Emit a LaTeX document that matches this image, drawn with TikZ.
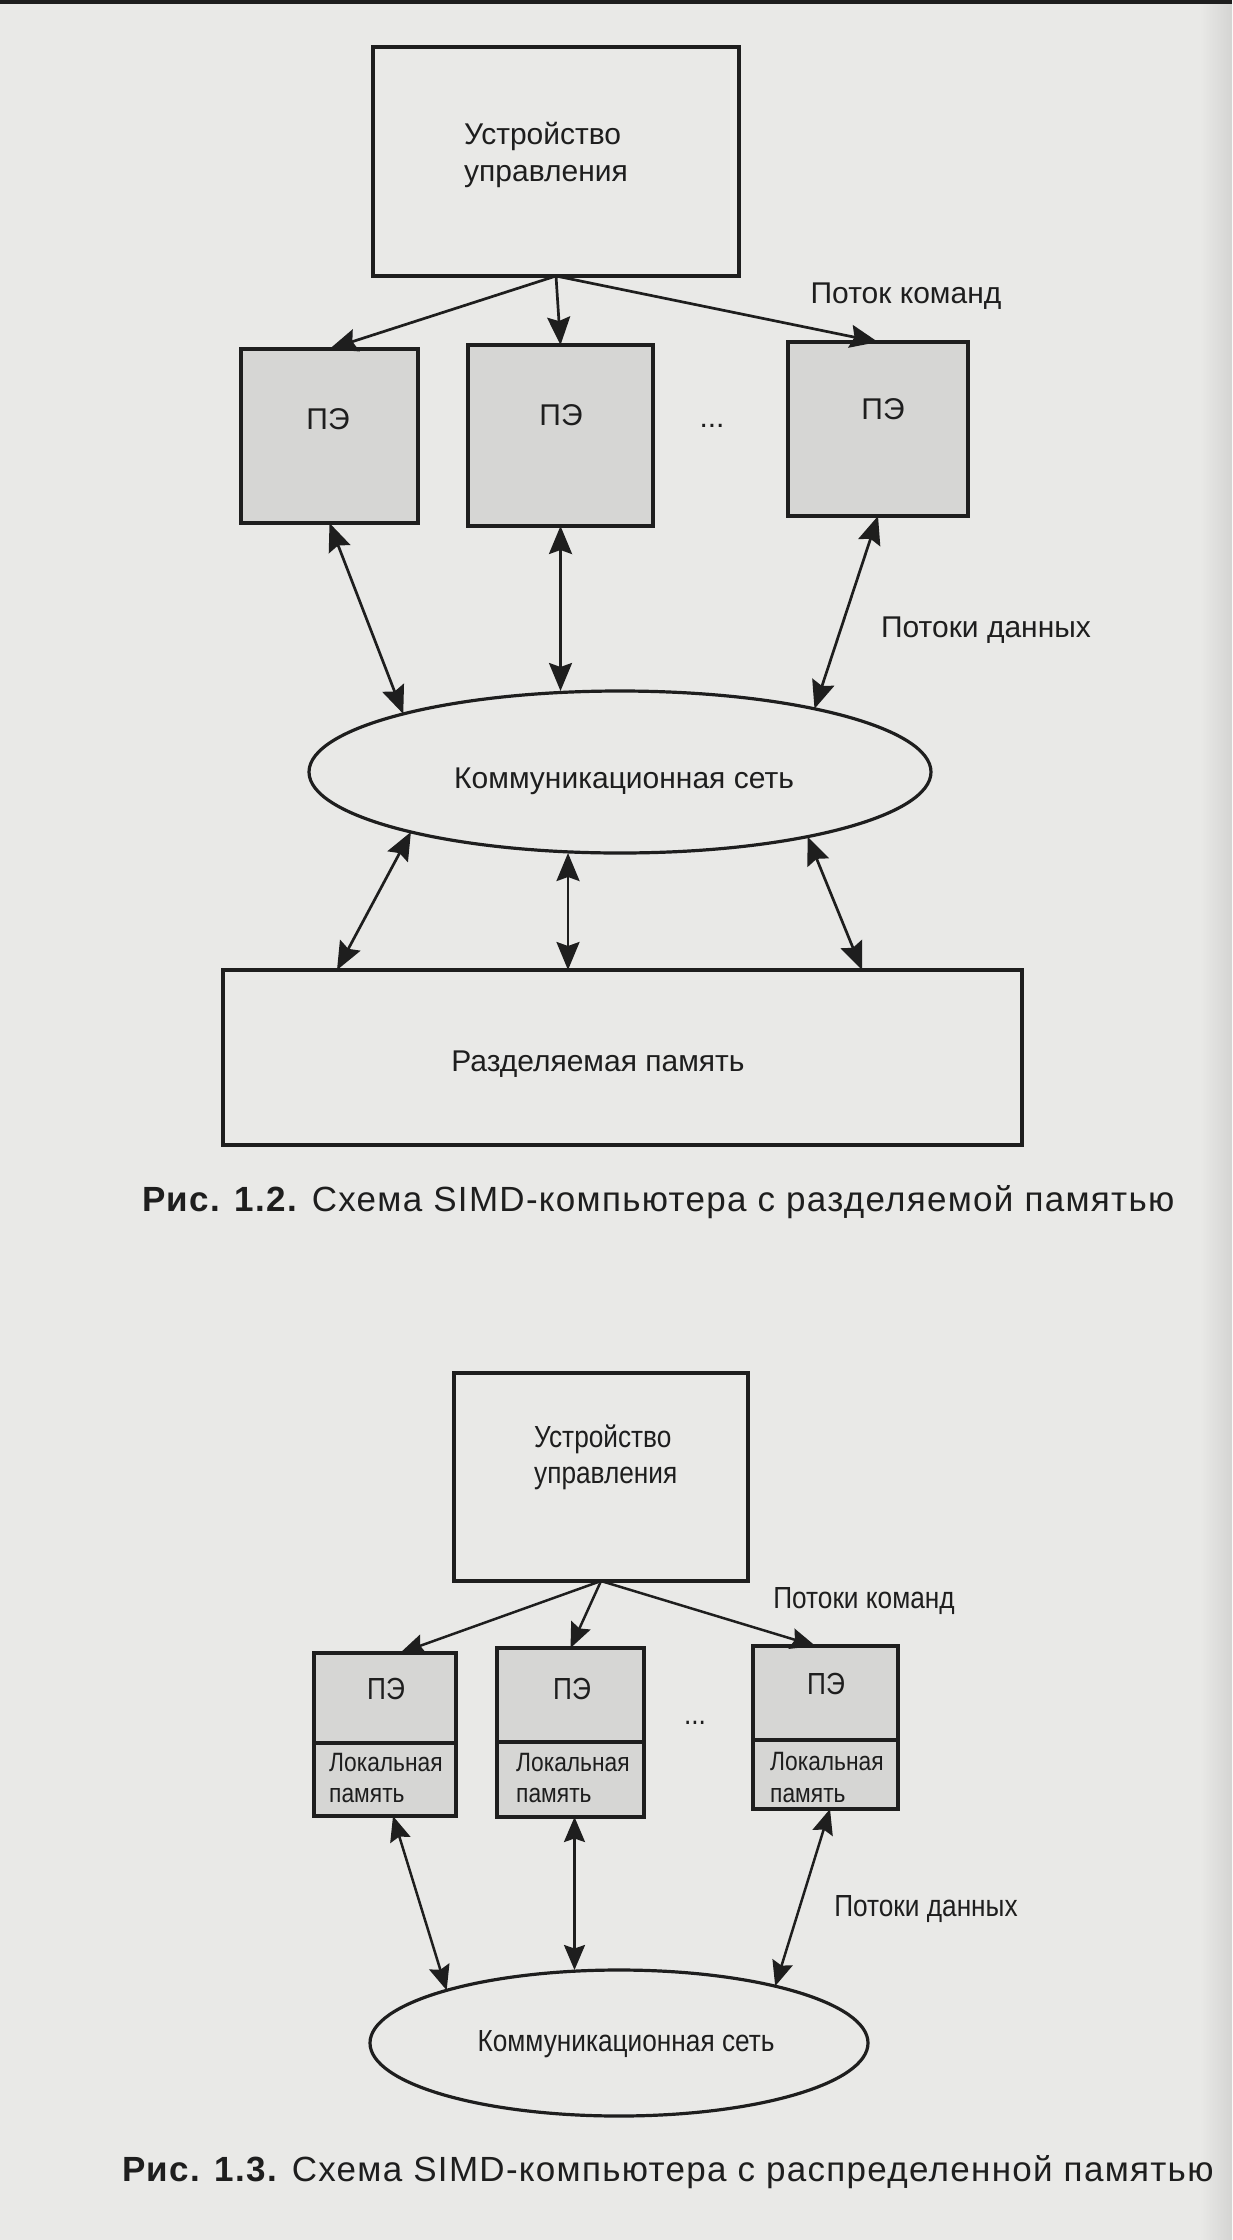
\documentclass[tikz,border=0pt]{standalone}
\usepackage{fontspec}
\setmainfont{Liberation Sans}
\newfontfamily\fa{Liberation Sans}
\newfontfamily\fb[FakeStretch=0.86]{Liberation Sans}
\newfontfamily\fcap[LetterSpace=3.7]{Liberation Sans}
\usetikzlibrary{arrows.meta,shapes.geometric,calc}
\definecolor{bg}{RGB}{233,233,231}
\definecolor{bgdark}{RGB}{212,212,210}
\definecolor{pefill}{RGB}{214,214,212}
\definecolor{ink}{RGB}{30,30,30}
\begin{document}
\begin{tikzpicture}[x=1pt,y=-1pt,
  box/.style={draw=ink, line width=3.2pt, inner sep=0pt, outer sep=0pt},
  pebox/.style={box, fill=pefill},
  net/.style={ellipse, draw=ink, line width=3.2pt, inner sep=0pt, outer sep=0pt},
  tA/.style={text=ink, inner sep=0pt, font={\fa\fontsize{30}{36}\selectfont}},
  tB/.style={text=ink, inner sep=0pt, font={\fb\fontsize{30.5}{36}\selectfont}},
  tL/.style={text=ink, inner sep=0pt, font={\fb\fontsize{26.5}{32}\selectfont}},
  captext/.style={text=ink, inner sep=0pt, font={\fcap\fontsize{35}{42}\selectfont}},
  tipA/.tip={Stealth[length=28pt,width=23pt,inset=4pt]},
  tipB/.tip={Stealth[length=25pt,width=21pt,inset=3.5pt]},
  arrA/.style={draw=ink, line width=2.7pt, -tipA},
  barrA/.style={draw=ink, line width=2.7pt, tipA-tipA},
  arrB/.style={draw=ink, line width=2.5pt, -tipB},
  barrB/.style={draw=ink, line width=2.5pt, tipB-tipB}
]
\useasboundingbox (0,0) rectangle (1232,2240);
\fill[bg] (0,0) rectangle (1232,2240);
\shade[left color=bg, right color=bgdark] (1200,0) rectangle (1232,2240);
\draw[ink, line width=4pt] (0,2) -- (1232,2);

% ---------- Figure 1.2 ----------
\node[box, minimum width=366pt, minimum height=229pt] (cu1) at (556,161.5) {};
\node[tA, anchor=base west] (cu1t1) at (464,144) {Устройство};
\node[tA, anchor=base west] (cu1t2) at (464,181) {управления};

\node[pebox, minimum width=177pt, minimum height=174pt] (pe1a) at (329.5,436) {};
\node[pebox, minimum width=185pt, minimum height=181pt] (pe2a) at (560.5,435.5) {};
\node[pebox, minimum width=180pt, minimum height=174pt] (pe3a) at (878,429) {};
\node[tA, anchor=base] (pe1at) at (328,429) {ПЭ};
\node[tA, anchor=base] (pe2at) at (561,425) {ПЭ};
\node[tA, anchor=base] (pe3at) at (883,419) {ПЭ};
\node[tA, anchor=base] (dotsA) at (712,427) {...};

\draw[arrA] (cu1.south) -- (pe1a.north);
\draw[arrA] (cu1.south) -- (pe2a.north);
\draw[arrA] (cu1.south) -- (pe3a.north);
\node[tA, anchor=base] (cmd1) at (906,303) {Поток команд};

\node[net, minimum width=622pt, minimum height=162pt] (net1) at (620,772) {};
\node[tA, anchor=base] (net1t) at (624,788) {Коммуникационная сеть};

\draw[barrA] (pe1a.south) -- (net1.165);
\draw[barrA] (pe2a.south) -- (pe2a.south |- net1.north);
\draw[barrA] (pe3a.south) -- (net1.18);
\node[tA, anchor=base] (dat1) at (986,637) {Потоки данных};

\node[box, minimum width=799pt, minimum height=175pt] (mem) at (622.5,1057.5) {};
\node[tA, anchor=base] (memt) at (598,1071) {Разделяемая память};

\draw[barrA] (net1.196) -- ([xshift=114pt]mem.north west);
\draw[barrA] ([xshift=-52pt]net1.south) -- ([xshift=-54.5pt]mem.north);
\draw[barrA] (net1.341) -- ([xshift=639pt]mem.north west);

\node[captext, anchor=base west] (cap1) at (142,1211) {{\bfseries Рис. 1.2.} Схема SIMD-компьютера с разделяемой памятью};

% ---------- Figure 1.3 ----------
\node[box, minimum width=294pt, minimum height=208pt] (cu2) at (601,1477) {};
\node[tB, anchor=base west] (cu2t1) at (534,1447) {Устройство};
\node[tB, anchor=base west] (cu2t2) at (534,1483) {управления};

\node[pebox, minimum width=142pt, minimum height=90pt] (pe1bt) at (385,1698) {};
\node[pebox, minimum width=142pt, minimum height=73pt] (pe1bb) at (385,1779.5) {};
\node[pebox, minimum width=147pt, minimum height=94pt] (pe2bt) at (570.5,1695) {};
\node[pebox, minimum width=147pt, minimum height=75pt] (pe2bb) at (570.5,1779.5) {};
\node[pebox, minimum width=145pt, minimum height=94pt] (pe3bt) at (825.5,1693) {};
\node[pebox, minimum width=145pt, minimum height=69pt] (pe3bb) at (825.5,1774.5) {};

\node[tB, anchor=base] (pe1btt) at (386,1699) {ПЭ};
\node[tB, anchor=base] (pe2btt) at (572,1699) {ПЭ};
\node[tB, anchor=base] (pe3btt) at (826,1694) {ПЭ};
\node[tL, anchor=base west] (lm1a) at (329,1771) {Локальная};
\node[tL, anchor=base west] (lm1b) at (329,1802) {память};
\node[tL, anchor=base west] (lm2a) at (516,1771) {Локальная};
\node[tL, anchor=base west] (lm2b) at (516,1802) {память};
\node[tL, anchor=base west] (lm3a) at (770,1770) {Локальная};
\node[tL, anchor=base west] (lm3b) at (770,1802) {память};
\node[tB, anchor=base] (dotsB) at (695,1724) {...};

\draw[arrB] (cu2.south) -- ([xshift=15pt]pe1bt.north);
\draw[arrB] (cu2.south) -- (pe2bt.north);
\draw[arrB] (cu2.south) -- ([xshift=-10pt]pe3bt.north);
\node[tB, anchor=base] (cmd2) at (864,1608) {Потоки команд};

\node[net, minimum width=498pt, minimum height=146pt] (net2) at (619,2043) {};
\node[tB, anchor=base] (net2t) at (626,2051) {Коммуникационная сеть};

\draw[barrB] ([xshift=8pt]pe1bb.south) -- (net2.163);
\draw[barrB] ([xshift=4pt]pe2bb.south) -- ([xshift=4pt]pe2bb.south |- net2.north);
\draw[barrB] ([xshift=4.5pt]pe3bb.south) -- (net2.20);
\node[tB, anchor=base] (dat2) at (926,1916) {Потоки данных};

\node[captext, anchor=base west] (cap2) at (122,2181) {{\bfseries Рис. 1.3.} Схема SIMD-компьютера с распределенной памятью};
\end{tikzpicture}
\end{document}
